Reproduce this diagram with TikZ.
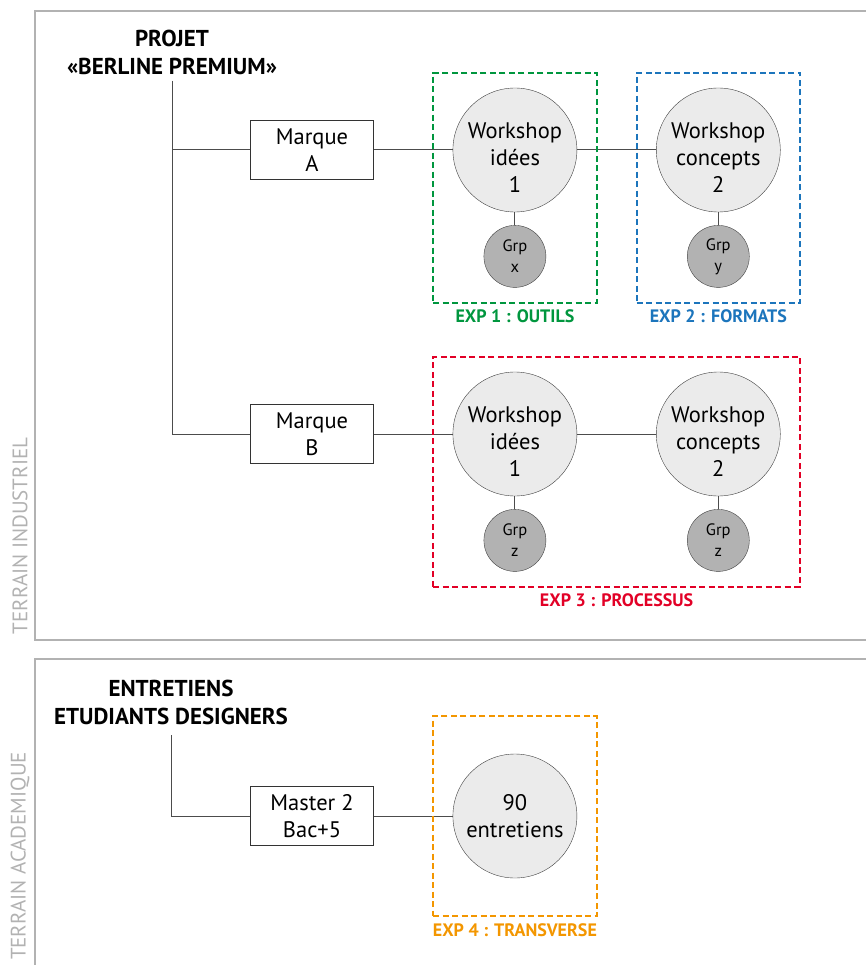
\documentclass[tikz,border=0pt]{standalone}
\usepackage{fontspec}
\setmainfont{PT Sans}
\usetikzlibrary{positioning,fit}
\definecolor{vertexp}{RGB}{0,150,62}
\definecolor{bleuexp}{RGB}{28,117,188}
\definecolor{rougeexp}{RGB}{226,0,38}
\definecolor{orangeexp}{RGB}{243,150,0}
\tikzset{
  marque/.style={draw=black!80, fill=white, minimum width=123pt, minimum height=59pt, inner sep=0pt, align=center, font=\fontsize{22.5}{27}\selectfont},
  atelier/.style={circle, draw=black!75, fill=black!8, minimum size=124pt, inner sep=0pt, align=center, font=\fontsize{22.5}{27}\selectfont},
  wstext/.style={align=center, font=\fontsize{22.5}{27}\selectfont, yshift=-8pt},
  grp/.style={circle, draw=black!75, fill=black!30, minimum size=62pt, inner sep=0pt, align=center, font=\fontsize{16.5}{21}\selectfont},
  lien/.style={draw=black!70, line width=1pt},
  expbox/.style={draw=#1, dashed, dash pattern=on 6pt off 3.5pt, line width=1.8pt, inner xsep=19.5pt, inner ysep=15pt},
  explabel/.style={font=\bfseries\fontsize{18}{20}\selectfont, inner sep=0pt, label distance=6pt},
  titre/.style={font=\bfseries\fontsize{23}{28}\selectfont, align=center, inner sep=2pt},
  terrain/.style={rotate=90, text=black!30, font=\fontsize{21}{22}\selectfont},
  cadre/.style={draw=black!30, line width=2pt}}

\begin{document}
\begin{tikzpicture}[x=1pt, y=-1pt, node distance=13pt and 79pt]
  \useasboundingbox (0,0) rectangle (865,965);
  % cadres des deux terrains
  \draw[cadre] (870,11) -- (35,11) -- (35,640) -- (870,640);
  \draw[cadre] (870,659) -- (35,659) -- (35,970);
  \node[terrain] (ti) at (20,536) {TERRAIN INDUSTRIEL};
  \node[terrain] (ta) at (20,856) {TERRAIN ACADEMIQUE};

  % terrain industriel
  \node[titre, anchor=south] (pj) at (172,77) {PROJET\\«BERLINE PREMIUM»};
  \coordinate (pj-b) at (172,81);
  \node[marque] (ma) at (312,150) {Marque\\A};
  \node[marque] (mb) at (312,434) {Marque\\B};
  \node[atelier, right=of ma] (ia) {};
  \node[atelier, right=of ia] (ca) {};
  \node[atelier, right=of mb] (ib) {};
  \node[atelier, right=of ib] (cb) {};
  \node[wstext] (ia-t) at (ia) {Workshop\\idées\\1};
  \node[wstext] (ca-t) at (ca) {Workshop\\concepts\\2};
  \node[wstext] (ib-t) at (ib) {Workshop\\idées\\1};
  \node[wstext] (cb-t) at (cb) {Workshop\\concepts\\2};
  \node[grp, below=of ia] (gx) {Grp\\x};
  \node[grp, below=of ca] (gy) {Grp\\y};
  \node[grp, below=of ib] (gz1) {Grp\\z};
  \node[grp, below=of cb] (gz2) {Grp\\z};
  \draw[lien] (pj-b) |- (ma.west);
  \draw[lien] (pj-b) |- (mb.west);
  \draw[lien] (ma) -- (ia); \draw[lien] (ia) -- (ca);
  \draw[lien] (mb) -- (ib); \draw[lien] (ib) -- (cb);
  \draw[lien] (ia) -- (gx); \draw[lien] (ca) -- (gy);
  \draw[lien] (ib) -- (gz1); \draw[lien] (cb) -- (gz2);
  \node[expbox=vertexp, fit=(ia) (gx), label={[explabel, text=vertexp]below:EXP 1 : OUTILS}] (exp1) {};
  \node[expbox=bleuexp, fit=(ca) (gy), label={[explabel, text=bleuexp]below:EXP 2 : FORMATS}] (exp2) {};
  \node[expbox=rougeexp, fit=(ib) (cb) (gz1) (gz2), label={[explabel, text=rougeexp]below:EXP 3 : PROCESSUS}] (exp3) {};

  % terrain academique
  \node[titre, anchor=south] (et) at (171,727) {ENTRETIENS\\ETUDIANTS DESIGNERS};
  \coordinate (et-b) at (171,735);
  \node[marque] (ms) at (312,816) {Master 2\\Bac+5};
  \node[atelier, right=of ms] (en) {90\\entretiens};
  \draw[lien] (et-b) |- (ms.west);
  \draw[lien] (ms) -- (en);
  \node[expbox=orangeexp, fit=(en), inner ysep=38pt, label={[explabel, text=orangeexp]below:EXP 4 : TRANSVERSE}] (exp4) {};
\end{tikzpicture}
\end{document}
